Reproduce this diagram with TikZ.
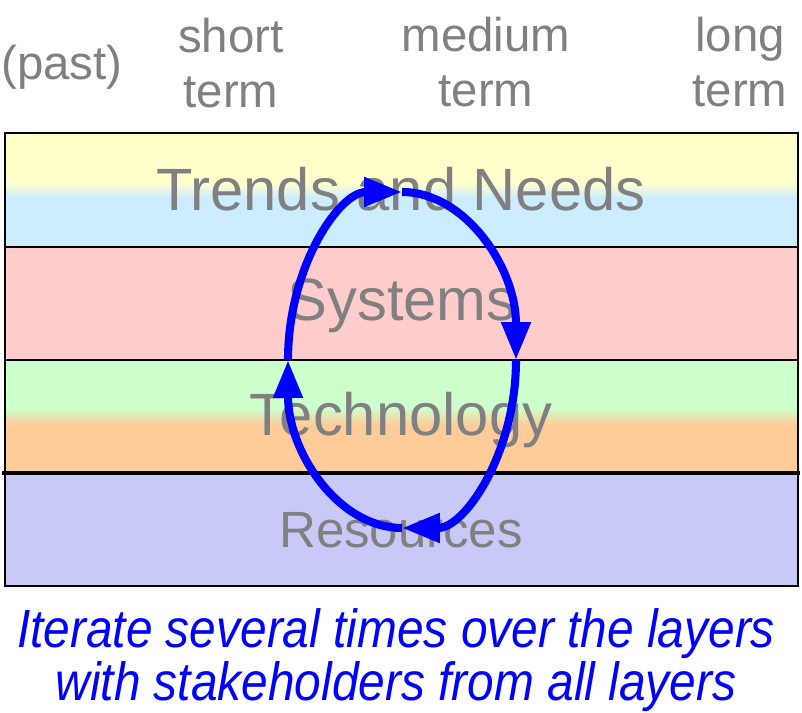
\documentclass[tikz,border=0pt]{standalone}
\usepackage{fontspec}
\setmainfont{Liberation Sans}
\newfontfamily\narrowsans[FakeStretch=0.89]{Liberation Sans}
\usetikzlibrary{arrows.meta}
\definecolor{trendyellow}{HTML}{FFFFCC}
\definecolor{trendblue}{HTML}{CCECFF}
\definecolor{syspink}{HTML}{FFCCCC}
\definecolor{techgreen}{HTML}{CCFFCC}
\definecolor{techorange}{HTML}{FFCC99}
\definecolor{reslavender}{HTML}{C9C9F7}
\definecolor{labelgray}{HTML}{808080}

\begin{document}
\begin{tikzpicture}[x=0.02cm,y=-0.02cm,
  layertext/.style={text=labelgray,font=\fontsize{34}{40}\selectfont,anchor=base},
  timetext/.style={text=labelgray,font=\fontsize{27}{31.7}\selectfont,align=center,anchor=base,inner sep=0pt},
  loopline/.style={blue,line width=4.6pt,-{Triangle[length=0.76cm,width=0.56cm]}}]
\useasboundingbox (0,0) rectangle (802,713);

\fill[trendyellow] (5,133) rectangle (798,183);
\fill[top color=trendyellow,bottom color=trendblue] (5,183) rectangle (798,198);
\fill[trendblue] (5,198) rectangle (798,247);
\fill[syspink] (5,247) rectangle (798,360);
\fill[techgreen] (5,360) rectangle (798,408);
\fill[top color=techgreen,bottom color=techorange] (5,408) rectangle (798,425);
\fill[techorange] (5,425) rectangle (798,473);
\fill[reslavender] (5,473) rectangle (798,586);

\draw[line width=1.1pt] (5,133) rectangle (798,586);
\draw[line width=1.1pt] (5,247) -- (798,247);
\draw[line width=1.1pt] (5,360) -- (798,360);
\draw[line width=2.8pt] (2,473) -- (800,473);

\node[timetext] (past) at (62,80) {(past)};
\node[timetext] (short) at (231,108) {short\\term};
\node[timetext] (medium) at (486,107) {medium\\term};
\node[timetext] (long) at (740,107) {long\\term};

\node[layertext] (trends) at (401,211) {Trends and Needs};
\node[layertext] (systems) at (402,320) {Systems};
\node[layertext] (technology) at (401,435) {Technology};
\node[layertext,font=\fontsize{29}{34}\selectfont] (resources) at (401,547) {Resources};

\coordinate (L) at (288,360);
\coordinate (T) at (402,192);
\coordinate (R) at (516,360);
\coordinate (B) at (402,528);
\draw[loopline] (L) arc[start angle=180,end angle=270,x radius=114,y radius=168];
\draw[loopline] (T) arc[start angle=270,end angle=360,x radius=114,y radius=168];
\draw[loopline] (R) arc[start angle=0,end angle=90,x radius=114,y radius=168];
\draw[loopline] (B) arc[start angle=90,end angle=180,x radius=114,y radius=168];

\node[text=blue,font=\narrowsans\itshape\fontsize{30.6}{30}\selectfont,align=center,anchor=base,inner sep=0pt] (note) at (396,700) {Iterate several times over the layers\\with stakeholders from all layers};
\end{tikzpicture}
\end{document}
